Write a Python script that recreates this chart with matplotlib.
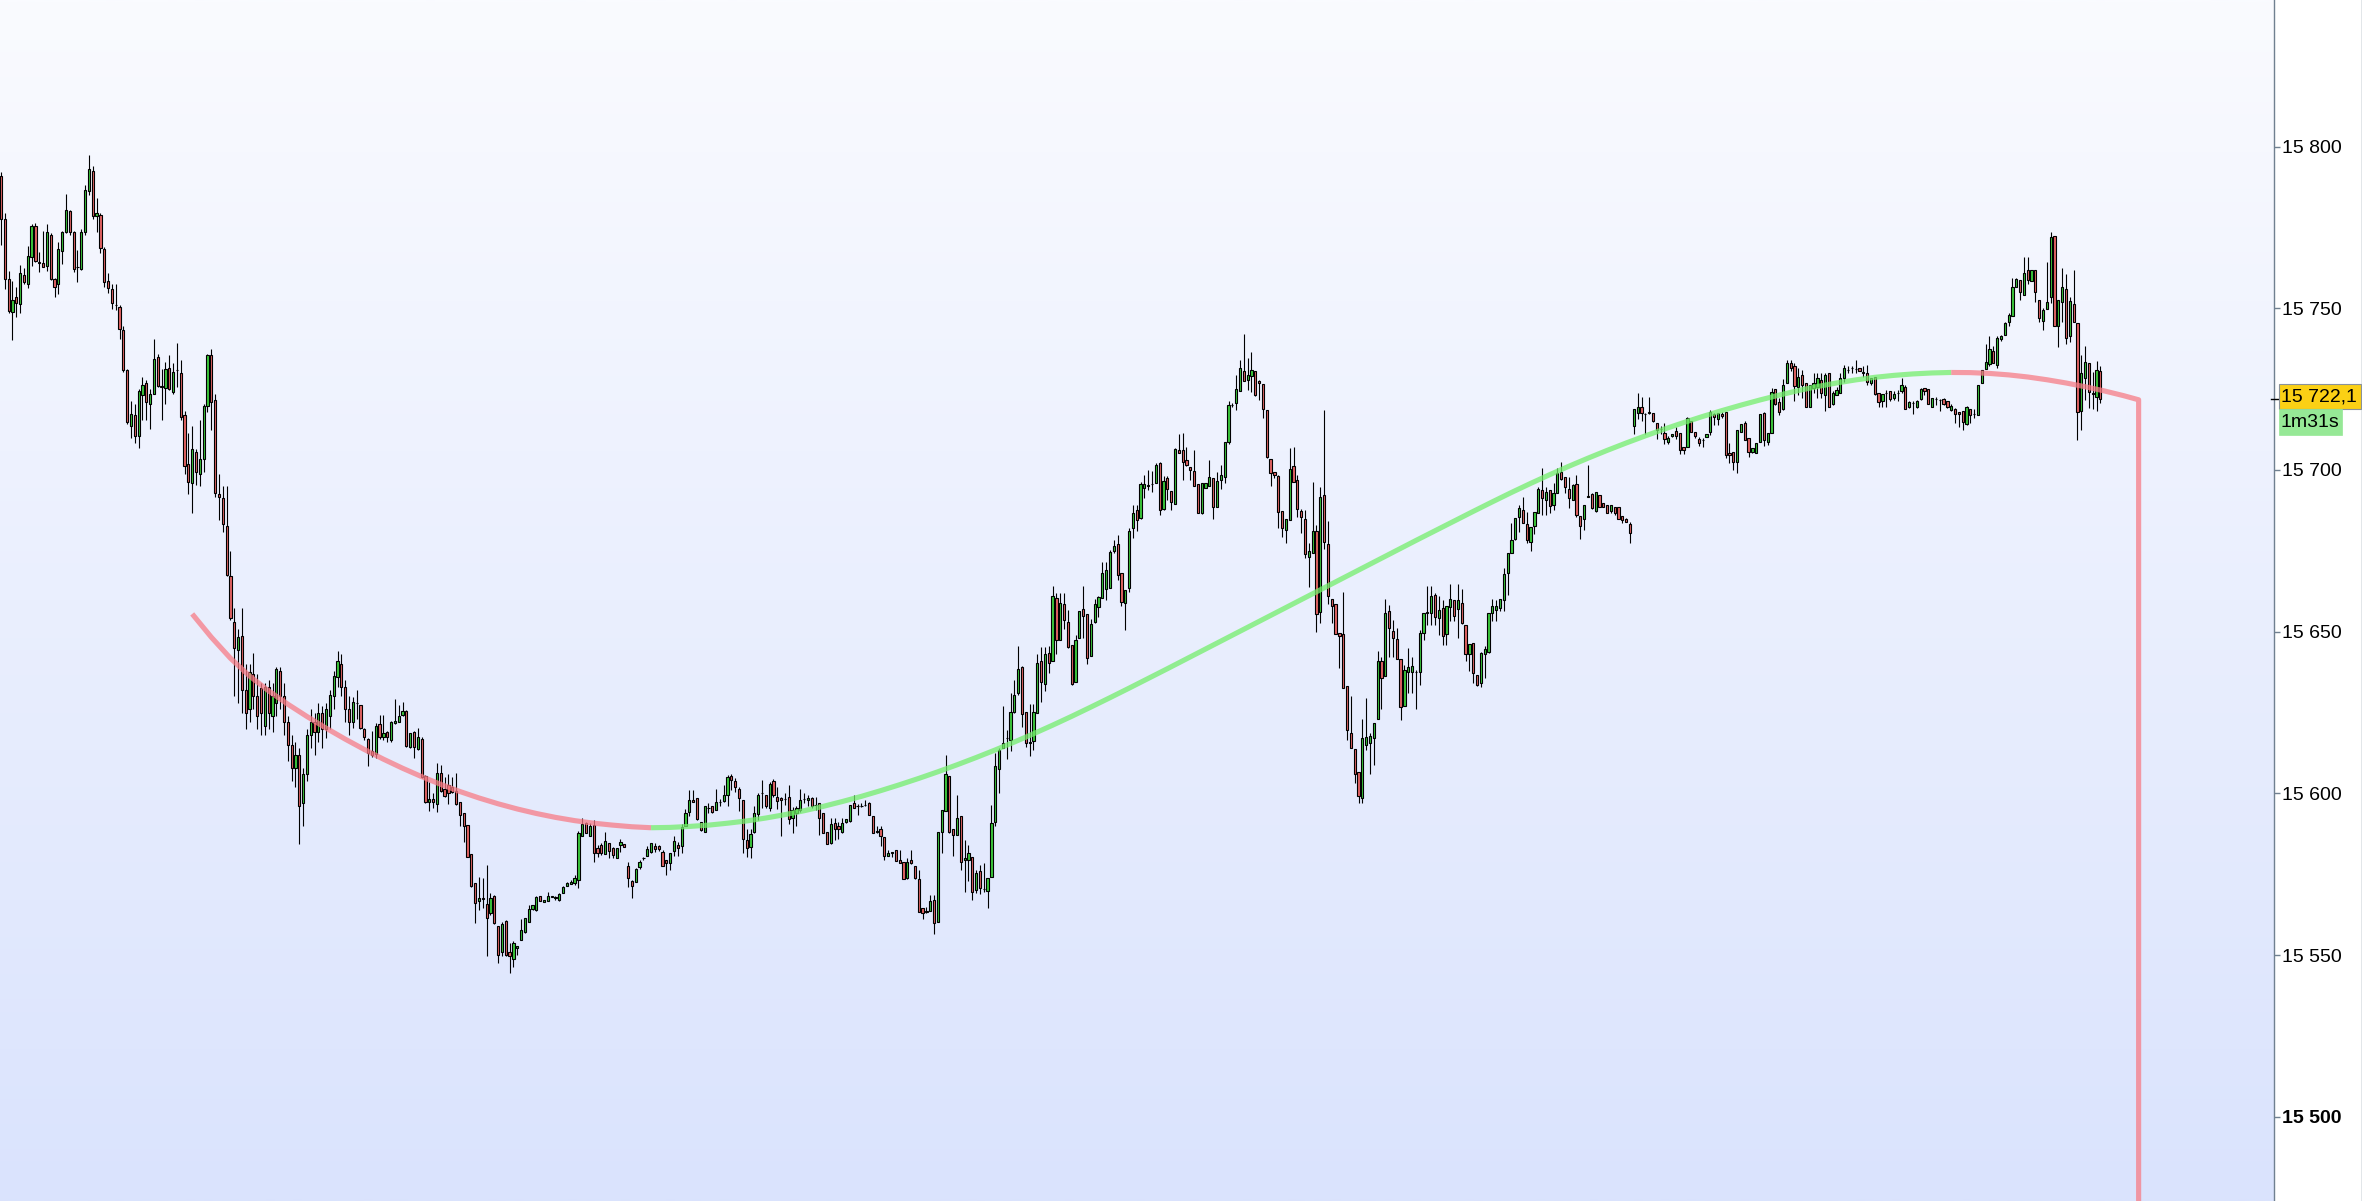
import numpy as np
import matplotlib
matplotlib.use("Agg")
import matplotlib.pyplot as plt
from matplotlib.patches import Rectangle
from matplotlib.lines import Line2D
from matplotlib.transforms import blended_transform_factory

# ---------------- data ----------------
opens = [
15791.0,15777.5,15759.0,15748.7,15753.4,15751.2,15760.3,15757.4,15765.7,15775.4,
15764.2,15763.9,15763.2,15772.8,15758.9,15757.4,15767.8,15773.5,15780.1,15773.5,
15762.9,15762.2,15773.7,15786.3,15792.4,15778.4,15778.7,15768.4,15758.3,15756.0,
15751.1,15750.3,15743.2,15730.8,15713.7,15717.0,15710.6,15723.3,15726.9,15720.3,
15723.4,15734.9,15725.9,15725.3,15731.6,15724.2,15730.9,15730.0,15717.0,15701.8,
15696.0,15705.6,15698.8,15703.5,15719.8,15735.4,15721.7,15692.7,15691.4,15682.8,
15667.3,15653.0,15644.4,15648.8,15632.0,15626.0,15637.0,15630.0,15632.6,15621.0,
15633.0,15624.0,15628.0,15638.0,15630.0,15622.0,15615.0,15608.0,15612.0,15597.0,
15606.0,15618.0,15622.0,15619.0,15625.0,15620.0,15624.0,15630.0,15636.0,15640.0,
15633.0,15626.0,15622.2,15628.0,15627.3,15620.0,15616.9,15613.0,15612.1,15621.4,
15617.6,15619.1,15616.6,15621.7,15622.2,15624.1,15625.6,15614.3,15619.1,15613.7,
15616.8,15605.5,15597.5,15598.2,15596.8,15606.3,15601.3,15602.6,15602.1,15600.8,
15597.3,15593.9,15590.3,15581.2,15572.2,15566.6,15567.6,15565.9,15563.0,15568.4,
15559.1,15550.9,15560.6,15551.1,15548.8,15552.2,15554.7,15557.3,15560.4,15564.2,
15564.0,15568.3,15566.4,15566.6,15567.9,15567.8,15567.1,15569.2,15571.5,15572.1,
15572.2,15573.1,15586.9,15590.8,15586.7,15590.3,15583.1,15584.1,15581.3,15584.6,
15583.1,15580.0,15584.1,15584.3,15577.6,15573.0,15572.6,15577.4,15580.0,15580.8,
15581.8,15583.8,15583.8,15581.8,15579.3,15578.4,15582.3,15584.1,15583.9,15589.8,
15594.4,15598.0,15598.5,15591.3,15588.2,15595.4,15596.0,15594.9,15597.2,15597.8,
15599.6,15605.4,15603.7,15601.3,15598.0,15585.6,15583.4,15588.0,15593.7,15600.1,
15599.6,15595.4,15603.7,15598.8,15598.7,15598.2,15598.8,15592.3,15593.9,15594.9,
15598.2,15598.0,15598.5,15596.5,15597.0,15593.9,15588.2,15584.8,15590.8,15589.8,
15588.2,15591.3,15591.5,15597.0,15596.2,15596.2,15596.5,15597.0,15592.9,15588.2,
15588.9,15586.5,15580.8,15581.7,15582.6,15579.5,15578.9,15573.8,15579.5,15577.6,
15573.5,15564.5,15563.5,15563.8,15567.1,15560.4,15588.2,15594.7,15605.4,15588.9,
15587.2,15593.1,15579.3,15579.3,15580.3,15570.2,15575.9,15570.4,15569.7,15574.3,
15591.3,15607.5,15614.0,15617.1,15616.6,15625.3,15631.0,15639.0,15625.1,15615.7,
15616.3,15624.8,15640.8,15633.9,15643.3,15641.1,15660.4,15647.5,15658.5,15652.9,
15645.9,15634.4,15648.0,15656.9,15655.5,15642.5,15653.1,15657.6,15660.4,15663.1,
15663.5,15674.8,15677.1,15668.1,15658.8,15663.4,15682.0,15687.7,15685.1,15694.4,
15695.2,15695.7,15695.9,15702.3,15687.9,15697.5,15693.5,15689.4,15706.2,15706.2,
15703.1,15700.9,15699.7,15695.6,15686.8,15694.4,15694.9,15697.5,15688.5,15696.9,
15697.8,15708.5,15720.1,15720.8,15724.5,15730.6,15727.9,15729.2,15730.6,15727.5,
15726.6,15718.6,15703.3,15699.5,15698.0,15687.2,15681.5,15684.6,15701.1,15696.9,
15687.4,15684.8,15673.2,15674.3,15681.0,15656.0,15692.3,15677.1,15660.0,15658.5,
15649.7,15649.2,15633.3,15618.8,15613.7,15606.5,15598.5,15615.0,15615.7,15617.1,
15623.0,15641.1,15636.4,15656.5,15650.1,15647.7,15641.5,15627.1,15637.4,15637.4,
15637.4,15637.4,15649.5,15655.9,15655.9,15661.4,15654.1,15657.2,15649.2,15657.5,
15659.8,15656.9,15659.0,15652.1,15643.1,15646.6,15636.6,15634.1,15643.1,15643.8,
15655.7,15656.7,15657.2,15659.8,15668.1,15674.4,15678.6,15685.6,15687.6,15683.2,
15677.8,15682.7,15686.6,15693.8,15690.7,15693.8,15689.2,15693.0,15699.5,15697.7,
15694.0,15690.7,15695.7,15685.8,15684.7,15691.8,15692.6,15687.4,15692.3,15689.7,
15689.2,15687.4,15688.7,15688.7,15685.8,15684.7,15683.3,15713.6,15717.7,15719.6,
15717.3,15717.7,15717.7,15714.4,15712.6,15711.5,15708.8,15710.5,15712.2,15711.3,
15707.0,15707.0,15715.2,15711.8,15709.5,15709.3,15710.1,15711.8,15717.3,15715.7,
15717.3,15718.0,15705.4,15705.7,15702.6,15711.8,15714.6,15709.8,15705.7,15705.1,
15708.8,15717.7,15708.8,15711.5,15724.9,15721.1,15718.7,15726.8,15733.2,15732.0,
15725.8,15729.4,15726.8,15719.4,15725.3,15725.8,15727.9,15723.2,15729.9,15720.4,
15723.2,15723.7,15728.4,15731.0,15731.5,15731.2,15731.5,15730.1,15729.9,15726.8,
15728.7,15723.7,15721.2,15723.7,15724.3,15722.2,15723.7,15724.3,15725.8,15719.4,
15720.6,15719.6,15721.9,15725.3,15725.0,15719.6,15721.9,15721.7,15721.9,15721.2,
15718.6,15718.8,15717.9,15718.1,15714.3,15718.8,15717.4,15717.0,15726.8,15731.2,
15732.7,15736.9,15732.5,15740.4,15741.8,15745.9,15747.6,15756.5,15758.6,15754.1,
15761.7,15758.3,15761.7,15752.6,15746.2,15749.8,15753.4,15772.2,15744.5,15751.8,
15755.9,15741.3,15751.4,15745.4,15718.1,15728.4,15733.0,15723.7,15722.7,15730.6,
]

closes = [
15777.5,15759.0,15749.2,15752.7,15751.7,15760.8,15758.2,15766.3,15775.4,15764.7,
15764.1,15762.8,15773.5,15759.1,15756.7,15768.2,15773.6,15780.3,15773.5,15762.2,
15762.8,15773.5,15786.7,15792.9,15778.5,15779.3,15768.7,15758.2,15756.4,15751.7,
15751.0,15743.7,15730.8,15714.8,15717.2,15710.4,15724.4,15726.2,15720.9,15723.4,
15734.2,15726.0,15725.8,15731.3,15725.0,15730.2,15730.8,15716.4,15701.3,15696.2,
15706.5,15699.3,15703.4,15719.8,15735.4,15721.1,15693.0,15691.8,15683.3,15667.5,
15654.1,15645.0,15648.3,15632.0,15625.0,15637.6,15630.0,15624.0,15625.0,15633.0,
15625.0,15630.0,15638.5,15630.0,15622.0,15615.0,15608.0,15612.0,15596.0,15606.0,
15618.0,15622.0,15619.0,15625.0,15620.0,15626.0,15630.4,15636.3,15641.0,15633.0,
15626.0,15622.0,15628.2,15627.9,15620.1,15617.3,15612.6,15611.9,15620.9,15617.4,
15618.6,15617.4,15622.2,15622.5,15623.8,15625.5,15614.8,15618.6,15614.3,15617.4,
15605.2,15597.2,15598.2,15597.2,15606.3,15600.8,15599.2,15600.1,15600.3,15596.7,
15593.2,15589.8,15580.5,15571.5,15566.1,15567.6,15567.5,15561.6,15567.6,15559.9,
15550.1,15559.7,15550.1,15549.8,15553.7,15552.7,15557.8,15561.4,15564.2,15565.5,
15568.1,15566.9,15567.1,15568.4,15568.4,15567.8,15569.0,15571.2,15572.2,15572.6,
15574.0,15587.7,15590.6,15587.7,15589.8,15581.5,15581.7,15581.5,15585.4,15582.3,
15581.0,15583.1,15585.1,15583.4,15573.8,15571.5,15576.6,15578.9,15580.0,15582.9,
15584.6,15582.8,15582.8,15577.6,15578.4,15581.5,15585.3,15583.1,15589.6,15593.9,
15598.0,15597.2,15592.0,15588.7,15596.0,15595.4,15594.4,15597.2,15597.2,15599.6,
15605.0,15604.2,15601.9,15598.5,15585.9,15583.1,15587.5,15593.9,15599.6,15600.1,
15596.0,15603.0,15599.6,15597.8,15598.0,15598.2,15592.0,15594.9,15595.4,15598.0,
15598.2,15598.5,15596.0,15596.5,15592.3,15587.9,15584.4,15590.5,15589.0,15589.0,
15590.8,15592.0,15596.5,15595.4,15596.2,15596.2,15596.5,15593.4,15587.9,15588.2,
15586.7,15580.8,15581.5,15581.7,15579.0,15578.4,15573.5,15578.9,15578.4,15573.8,
15563.3,15563.0,15563.5,15566.6,15559.9,15588.0,15594.9,15606.0,15588.2,15587.2,
15592.3,15578.9,15580.0,15581.5,15569.4,15575.3,15570.7,15570.4,15573.8,15590.8,
15608.5,15613.5,15615.7,15617.1,15625.3,15630.5,15638.4,15624.6,15615.7,15615.7,
15625.3,15640.3,15634.4,15643.1,15640.3,15660.9,15647.3,15659.0,15653.7,15645.2,
15633.9,15647.5,15656.4,15654.9,15641.8,15652.4,15658.6,15660.7,15668.1,15669.1,
15674.6,15676.5,15667.6,15659.3,15662.9,15681.2,15686.8,15684.6,15695.7,15695.7,
15695.2,15695.7,15701.6,15687.5,15696.6,15694.1,15690.0,15706.4,15705.4,15702.6,
15701.4,15700.0,15694.9,15686.8,15695.9,15695.9,15697.8,15688.5,15696.6,15698.5,
15708.8,15720.1,15720.1,15725.0,15731.5,15727.5,15729.4,15731.0,15723.2,15726.8,
15718.8,15703.9,15699.0,15698.3,15687.0,15682.0,15684.8,15700.2,15696.4,15687.9,
15685.4,15674.0,15675.1,15681.0,15655.5,15691.5,15677.7,15661.1,15658.0,15649.2,
15648.7,15632.5,15619.5,15614.0,15606.1,15599.1,15617.1,15617.6,15617.8,15621.9,
15641.1,15635.6,15655.9,15651.1,15648.0,15641.5,15626.7,15638.2,15639.0,15639.5,
15637.4,15649.5,15655.9,15655.9,15660.9,15654.7,15656.7,15648.7,15658.1,15660.0,
15654.9,15659.8,15652.6,15643.1,15646.1,15637.1,15633.5,15643.5,15644.6,15655.7,
15658.1,15657.8,15660.0,15667.7,15674.2,15678.2,15685.1,15688.1,15683.5,15678.2,
15682.3,15687.1,15694.0,15691.2,15693.1,15688.9,15692.8,15699.2,15697.1,15694.6,
15691.2,15695.4,15686.1,15682.7,15689.2,15691.8,15688.1,15693.3,15688.7,15688.7,
15686.8,15689.2,15686.6,15684.7,15684.5,15684.0,15680.4,15718.7,15719.4,15717.7,
15717.3,15718.0,15715.2,15712.4,15712.6,15709.5,15709.8,15711.1,15710.5,15706.2,
15706.2,15716.0,15711.8,15710.5,15708.4,15709.3,15711.1,15718.0,15716.5,15717.5,
15716.7,15704.6,15704.6,15702.6,15712.4,15714.2,15709.3,15705.7,15706.7,15708.2,
15717.3,15709.3,15711.3,15724.2,15720.4,15718.0,15726.3,15733.2,15731.4,15726.0,
15728.9,15726.3,15719.6,15726.3,15727.0,15728.4,15723.7,15729.4,15719.6,15723.7,
15724.6,15728.4,15731.5,15731.0,15731.5,15731.2,15730.7,15730.1,15727.3,15728.4,
15723.4,15721.0,15723.4,15723.7,15721.9,15723.4,15723.7,15726.3,15718.8,15721.0,
15720.6,15721.2,15725.0,15724.3,15720.4,15722.2,15721.9,15721.7,15720.4,15719.4,
15719.8,15717.2,15717.3,15714.7,15719.4,15717.0,15717.4,15726.3,15731.0,15733.3,
15737.3,15733.2,15740.7,15741.5,15745.4,15748.0,15756.5,15759.0,15754.9,15760.8,
15758.8,15761.7,15754.9,15746.9,15749.5,15751.8,15772.0,15744.5,15752.6,15756.5,
15740.7,15752.1,15745.9,15717.8,15729.9,15733.3,15724.0,15723.4,15731.0,15722.1,
]

highs = [
15792.0,15779.5,15761.5,15758.4,15756.7,15763.3,15762.4,15769.4,15776.0,15776.3,
15767.4,15774.0,15776.0,15773.3,15759.2,15770.4,15774.0,15785.3,15780.4,15773.9,
15768.0,15774.4,15788.1,15797.4,15794.0,15784.0,15779.5,15769.0,15760.8,15757.5,
15757.5,15751.0,15744.6,15731.3,15721.4,15720.3,15725.0,15728.8,15727.8,15724.9,
15740.5,15735.8,15731.3,15733.3,15735.5,15733.0,15739.3,15733.9,15718.1,15711.5,
15713.7,15706.5,15715.3,15720.3,15735.8,15737.4,15723.6,15698.8,15694.9,15694.9,
15675.0,15657.4,15650.7,15657.4,15640.0,15640.0,15643.4,15637.0,15634.0,15634.0,
15635.0,15634.0,15639.0,15639.0,15634.0,15624.0,15618.0,15616.0,15614.0,15608.0,
15620.0,15626.0,15625.0,15628.0,15627.0,15628.0,15632.0,15638.0,15644.0,15643.0,
15635.0,15630.0,15629.9,15632.0,15627.4,15620.2,15617.0,15619.3,15621.7,15624.3,
15624.3,15619.2,15622.4,15629.1,15627.4,15628.2,15625.7,15618.7,15619.2,15620.2,
15617.6,15605.6,15603.4,15600.1,15609.3,15608.8,15605.0,15605.9,15605.2,15606.3,
15597.3,15593.9,15590.3,15581.2,15572.2,15574.1,15573.8,15577.9,15569.2,15568.6,
15559.1,15560.4,15560.9,15553.7,15554.4,15552.7,15561.1,15561.4,15565.5,15565.5,
15568.3,15568.3,15567.1,15569.4,15568.4,15568.4,15569.2,15571.4,15572.7,15573.1,
15574.8,15588.5,15592.3,15591.3,15590.8,15591.8,15584.1,15584.8,15588.0,15584.6,
15583.4,15583.1,15585.8,15584.3,15578.9,15573.3,15576.9,15579.5,15580.2,15583.9,
15584.6,15584.8,15584.1,15582.5,15579.3,15581.5,15586.9,15585.1,15590.6,15595.1,
15601.1,15601.1,15598.5,15591.3,15596.0,15597.0,15596.0,15601.3,15598.2,15602.6,
15605.7,15606.0,15604.7,15601.9,15598.0,15588.9,15588.9,15596.0,15600.1,15604.2,
15599.6,15603.4,15604.4,15601.9,15599.0,15600.1,15602.6,15595.9,15596.1,15601.3,
15600.1,15599.6,15598.8,15598.8,15597.0,15593.9,15588.2,15592.3,15592.3,15591.3,
15592.3,15592.0,15596.5,15599.6,15596.8,15597.0,15598.0,15597.2,15592.9,15589.8,
15589.8,15586.5,15582.5,15581.7,15582.6,15582.6,15578.9,15580.0,15582.6,15577.6,
15576.4,15564.5,15565.0,15568.6,15568.6,15588.0,15594.9,15611.9,15605.4,15588.9,
15599.6,15593.1,15585.6,15584.1,15580.3,15576.4,15577.9,15578.4,15573.8,15596.5,
15612.4,15614.0,15627.1,15619.6,15631.0,15635.1,15645.6,15639.4,15625.1,15627.7,
15627.7,15643.1,15645.2,15645.2,15645.6,15664.0,15661.9,15661.9,15662.0,15656.7,
15645.9,15649.1,15656.4,15664.2,15655.5,15653.9,15660.0,15661.1,15671.7,15671.7,
15675.3,15678.2,15679.9,15668.1,15662.9,15682.0,15689.2,15689.2,15696.4,15698.5,
15700.0,15699.8,15702.1,15702.6,15698.0,15698.0,15693.5,15706.7,15711.1,15711.4,
15707.0,15700.9,15706.2,15695.6,15695.9,15695.9,15703.1,15697.5,15699.5,15701.6,
15708.8,15721.2,15720.6,15729.4,15734.0,15742.1,15734.5,15736.4,15730.6,15727.8,
15726.6,15718.6,15703.3,15699.5,15698.5,15687.2,15684.8,15706.7,15707.2,15698.5,
15687.9,15687.7,15677.4,15696.4,15683.0,15694.6,15718.4,15684.3,15660.0,15658.5,
15649.7,15662.4,15633.3,15630.2,15613.7,15606.5,15623.0,15629.5,15618.6,15621.9,
15643.9,15642.3,15660.0,15658.3,15653.7,15651.1,15641.5,15639.8,15644.9,15642.1,
15638.2,15650.6,15655.9,15664.2,15664.2,15662.1,15661.0,15659.8,15658.1,15664.8,
15659.8,15664.8,15663.1,15652.1,15646.1,15646.6,15636.6,15643.8,15645.6,15655.7,
15660.0,15659.8,15660.0,15669.6,15674.4,15683.5,15685.1,15689.2,15691.8,15687.1,
15682.3,15687.1,15694.6,15700.5,15694.6,15693.8,15695.9,15700.5,15702.6,15697.9,
15697.9,15695.7,15698.5,15685.8,15689.2,15701.5,15692.8,15693.3,15692.3,15689.7,
15689.2,15689.2,15688.7,15688.7,15685.8,15685.1,15684.0,15718.7,15723.9,15722.5,
15717.5,15722.5,15717.7,15714.4,15713.6,15714.6,15710.5,15711.1,15713.4,15711.3,
15707.0,15716.5,15715.2,15711.8,15710.3,15709.8,15711.1,15718.5,15717.5,15717.5,
15718.0,15718.0,15708.2,15705.7,15712.4,15714.2,15715.2,15709.8,15706.7,15708.2,
15717.3,15718.0,15711.5,15725.2,15724.9,15722.2,15728.0,15734.0,15734.0,15733.0,
15731.5,15731.0,15726.8,15726.3,15730.1,15729.9,15729.9,15729.9,15729.9,15724.3,
15725.8,15729.9,15732.5,15732.0,15732.0,15734.0,15731.5,15732.0,15732.5,15728.4,
15728.7,15723.7,15723.4,15724.8,15724.3,15724.3,15724.6,15728.4,15726.3,15721.2,
15721.2,15721.7,15725.3,15725.3,15725.0,15722.2,15722.5,15721.9,15722.2,15721.2,
15720.4,15719.1,15717.9,15718.1,15719.8,15718.8,15718.8,15726.3,15731.0,15738.9,
15741.5,15738.2,15741.3,15741.8,15745.9,15748.5,15759.3,15759.3,15758.6,15766.0,
15766.0,15761.7,15761.7,15752.6,15750.0,15764.4,15773.7,15772.2,15752.6,15762.4,
15760.6,15753.6,15761.9,15745.4,15735.6,15738.2,15733.0,15730.4,15733.6,15732.3,
]

lows = [
15769.5,15756.0,15748.4,15740.2,15747.2,15748.6,15757.5,15756.4,15763.2,15764.2,
15761.3,15762.8,15761.6,15758.7,15753.6,15754.3,15763.7,15773.4,15772.6,15761.3,
15758.2,15761.7,15772.6,15785.0,15777.6,15773.7,15767.2,15756.7,15754.8,15749.7,
15749.5,15740.4,15730.2,15714.2,15709.8,15708.2,15706.8,15715.6,15715.6,15712.8,
15723.4,15725.8,15715.3,15720.3,15724.7,15723.6,15725.8,15715.3,15698.8,15692.7,
15686.6,15695.5,15695.1,15699.3,15717.9,15712.4,15691.8,15684.4,15680.9,15667.3,
15653.5,15630.0,15628.0,15625.0,15620.0,15622.0,15626.0,15620.0,15618.0,15618.0,
15620.0,15619.0,15624.0,15626.0,15618.0,15610.0,15604.0,15602.0,15584.5,15590.0,
15604.0,15614.0,15612.0,15616.0,15614.0,15617.0,15620.0,15626.0,15633.0,15630.0,
15622.0,15618.0,15620.2,15622.9,15620.0,15616.6,15608.6,15611.4,15611.1,15616.9,
15616.6,15616.0,15616.0,15621.6,15622.0,15624.0,15614.3,15614.2,15611.1,15613.5,
15604.7,15597.0,15594.7,15595.4,15594.2,15600.3,15598.8,15596.8,15600.1,15596.5,
15589.8,15585.1,15580.2,15571.2,15560.1,15564.0,15564.5,15549.6,15562.5,15559.6,
15547.7,15549.8,15549.6,15544.6,15546.3,15550.1,15554.7,15557.0,15560.4,15564.0,
15563.8,15566.6,15566.3,15566.6,15567.9,15567.1,15566.6,15569.2,15571.4,15572.0,
15571.7,15570.7,15586.7,15587.7,15586.7,15578.7,15580.5,15581.0,15581.3,15580.0,
15580.0,15580.0,15582.0,15583.4,15571.2,15567.8,15572.6,15576.6,15579.5,15580.8,
15581.5,15581.8,15582.3,15577.6,15574.8,15576.4,15580.7,15580.7,15581.5,15589.8,
15592.9,15597.2,15591.8,15588.5,15588.2,15593.9,15593.9,15594.9,15596.2,15597.2,
15596.0,15601.1,15600.3,15594.7,15581.7,15580.5,15580.0,15587.7,15591.8,15595.4,
15595.4,15594.7,15598.8,15595.1,15586.7,15596.5,15590.6,15587.9,15589.8,15594.4,
15597.0,15596.0,15595.4,15594.9,15587.2,15587.9,15584.4,15584.4,15585.6,15585.9,
15587.7,15590.8,15591.3,15595.4,15593.4,15595.7,15596.0,15593.4,15587.9,15587.9,
15583.8,15579.5,15580.8,15580.5,15579.0,15578.4,15573.5,15573.5,15578.2,15573.5,
15563.3,15561.1,15563.0,15563.8,15556.6,15560.4,15581.7,15594.7,15587.7,15580.7,
15587.2,15576.2,15569.4,15572.8,15567.1,15569.2,15569.0,15569.4,15564.5,15574.3,
15589.8,15600.1,15614.0,15610.6,15613.0,15624.8,15630.5,15620.5,15614.3,15611.6,
15613.5,15624.8,15628.4,15631.8,15637.2,15640.8,15643.1,15647.5,15650.8,15645.0,
15633.6,15634.4,15648.0,15648.0,15640.1,15642.5,15652.6,15654.7,15660.4,15659.8,
15663.5,15674.3,15666.0,15657.8,15650.6,15662.4,15678.9,15681.0,15684.9,15691.3,
15693.9,15693.3,15695.9,15686.1,15687.7,15690.8,15687.7,15689.4,15705.2,15696.9,
15701.1,15696.9,15694.9,15686.8,15686.4,15694.4,15694.9,15684.8,15688.5,15694.1,
15695.9,15708.1,15719.4,15718.4,15724.5,15727.5,15724.6,15724.2,15722.9,15721.7,
15716.0,15703.6,15695.2,15697.5,15682.2,15679.2,15677.4,15684.6,15696.4,15685.6,
15680.5,15672.9,15663.7,15674.3,15649.9,15652.6,15675.5,15658.5,15652.8,15649.2,
15638.7,15632.5,15616.4,15614.0,15603.2,15597.0,15597.0,15613.5,15606.0,15608.8,
15623.0,15626.0,15636.4,15642.1,15642.1,15641.5,15622.8,15627.1,15631.2,15631.0,
15626.0,15633.6,15647.3,15652.1,15652.1,15652.1,15649.1,15645.9,15645.9,15653.4,
15653.4,15648.0,15652.4,15641.1,15638.0,15634.1,15633.2,15633.0,15635.6,15643.5,
15653.4,15653.4,15656.5,15656.5,15661.4,15674.4,15678.4,15680.9,15683.5,15677.5,
15675.1,15680.2,15686.6,15686.1,15686.1,15686.6,15687.6,15693.0,15696.9,15693.0,
15688.1,15690.7,15685.6,15678.6,15681.4,15691.8,15687.8,15687.1,15688.7,15688.7,
15686.6,15686.8,15686.1,15684.7,15683.5,15684.0,15677.5,15711.1,15715.7,15715.2,
15711.1,15717.3,15714.9,15709.5,15711.1,15708.0,15708.0,15710.1,15709.5,15704.9,
15704.9,15707.0,15711.8,15709.8,15707.4,15707.2,15710.1,15710.8,15713.9,15713.9,
15716.0,15703.6,15702.1,15700.0,15699.2,15711.8,15709.3,15704.1,15705.1,15705.1,
15708.8,15707.4,15707.7,15711.5,15720.1,15717.0,15718.5,15726.8,15730.5,15721.2,
15723.2,15722.2,15719.6,15719.4,15723.7,15722.2,15722.2,15718.1,15719.6,15720.1,
15723.2,15723.7,15727.3,15729.9,15729.9,15729.9,15730.7,15728.9,15726.3,15726.3,
15723.2,15719.6,15719.6,15719.4,15721.2,15721.7,15721.2,15723.9,15718.8,15719.1,
15717.3,15719.1,15721.7,15723.2,15720.4,15719.6,15720.1,15718.1,15720.1,15719.1,
15718.1,15714.5,15713.4,15712.4,15713.9,15714.5,15716.0,15717.0,15726.8,15731.2,
15732.0,15733.0,15731.5,15740.0,15741.8,15744.5,15747.6,15756.5,15752.6,15754.1,
15757.5,15758.3,15751.8,15745.9,15743.3,15749.8,15751.6,15744.5,15738.0,15745.6,
15739.0,15739.7,15745.9,15709.3,15712.4,15721.7,15719.1,15718.8,15718.1,15720.8,
]

# smoothed average line, one value every 5 bars from bar 50, then its last point (bar 559)
ma_values = [
15655.5,15648.3,15641.8,15636.3,15631.7,15627.6,15623.8,15620.2,15616.8,15613.6,
15610.6,15607.8,15605.2,15602.8,15600.6,15598.6,15596.8,15595.2,15593.8,15592.6,
15591.6,15590.8,15590.2,15589.7,15589.4,15589.5,15589.8,15590.2,15590.8,15591.5,
15592.4,15593.45,15594.65,15596.0,15597.5,15599.1,15600.85,15602.7,15604.65,15606.7,
15608.85,15611.1,15613.45,15615.9,15618.45,15621.1,15623.85,15626.7,15629.6,15632.55,
15635.55,15638.55,15641.6,15644.65,15647.7,15650.75,15653.8,15656.85,15659.9,15662.95,
15666.0,15669.05,15672.1,15675.15,15678.2,15681.2,15684.2,15687.2,15690.15,15693.05,
15695.85,15698.55,15701.15,15703.65,15706.05,15708.35,15710.55,15712.65,15714.65,15716.55,
15718.35,15720.05,15721.65,15723.15,15724.55,15725.8,15726.9,15727.85,15728.65,15729.25,
15729.7,15730.0,15730.15,15730.1,15729.85,15729.4,15728.75,15727.9,15726.9,15725.75,
15724.45,15723.0,15721.7,
]
ma_drop_value = 15300.0

ytick_values = [15500, 15550, 15600, 15650, 15700, 15750, 15800]
ytick_labels = ["15 500", "15 550", "15 600", "15 650", "15 700", "15 750", "15 800"]
last_price_label = "15 722,1"
timer_label = "1m31s"

n = len(closes)
assert len(opens) == n and len(highs) == n and len(lows) == n, (len(opens), len(highs), len(lows), n)

# ---------------- figure ----------------
plt.rcParams["font.family"] = ["Liberation Sans", "DejaVu Sans"]
W, H = 2362, 1201
fig = plt.figure(figsize=(W / 100, H / 100), dpi=100)
fig.patch.set_facecolor("white")

axis_px = 2274
ax = fig.add_axes([0, 0, axis_px / W, 1])

# vertical gradient background
top = np.array([250, 251, 255]) / 255.0
bot = np.array([218, 227, 253]) / 255.0
t = np.linspace(0, 1, 256)[:, None]
grad = top * (1 - t) + bot * t
ax.imshow(grad[:, None, :], extent=[0, 1, 0, 1], transform=ax.transAxes,
          aspect="auto", zorder=0, interpolation="bilinear")

o = np.array(opens)
c = np.array(closes)
h = np.maximum(np.array(highs), np.maximum(o, c))
l = np.minimum(np.array(lows), np.minimum(o, c))
x = np.arange(n)
up = c >= o
body_bot = np.minimum(o, c)
body_h = np.maximum(np.abs(c - o), 0.05)

GREEN = "#3cc83c"
RED = "#e46464"
ax.vlines(x, l, h, color="black", linewidth=0.8, zorder=2)
ax.bar(x[up], body_h[up], bottom=body_bot[up], width=0.58, color=GREEN,
       edgecolor="black", linewidth=0.8, zorder=3)
ax.bar(x[~up], body_h[~up], bottom=body_bot[~up], width=0.58, color=RED,
       edgecolor="black", linewidth=0.8, zorder=3)

# smoothed line coloured by slope
ma_x = list(range(50, 556, 5)) + [559, 559]
ma_y = ma_values + [ma_drop_value]
MA_GREEN = "#74ee6c"
MA_RED = "#f77c86"
seg_cols = [MA_GREEN if ma_y[k + 1] > ma_y[k] else MA_RED for k in range(len(ma_y) - 1)]
start = 0
for k in range(1, len(seg_cols) + 1):
    if k == len(seg_cols) or seg_cols[k] != seg_cols[start]:
        ax.plot(ma_x[start:k + 1], ma_y[start:k + 1], color=seg_cols[start],
                linewidth=3.7, alpha=0.75, solid_capstyle="butt",
                solid_joinstyle="round", zorder=4)
        start = k

ax.set_xlim(-0.26, 594.4)
ax.set_ylim(15474.0, 15845.3)

ax.set_xticks([])
ax.yaxis.tick_right()
ax.set_yticks(ytick_values)
ax.set_yticklabels(ytick_labels, fontsize=14)
ax.tick_params(axis="y", direction="out", length=4, width=1, color="#708090",
               pad=2, labelcolor="black")
for lab in ax.get_yticklabels():
    if lab.get_text() == "15 500":
        lab.set_fontweight("bold")
for sp in ["left", "top", "bottom"]:
    ax.spines[sp].set_visible(False)
ax.spines["right"].set_color("#708090")
ax.spines["right"].set_linewidth(1.0)

# right border of the price panel
fig.add_artist(Line2D([2361.5 / W, 2361.5 / W], [0, 1], transform=fig.transFigure,
                      color="#708090", linewidth=1.0))

# last price tag and timer
last = closes[-1]
tr = blended_transform_factory(fig.transFigure, ax.transData)
box_h = 25 / 3.235
yb = last + 0.5 - box_h / 2
fig.add_artist(Rectangle((2279 / W, yb), (2361 - 2279) / W, box_h, transform=tr,
                         facecolor="#fbd015", edgecolor="#8a929a", linewidth=0.8, zorder=5))
fig.text(2281 / W, yb + box_h / 2, last_price_label, transform=tr, fontsize=14,
         va="center", ha="left", color="black", zorder=6)
gh = 26 / 3.235
fig.add_artist(Rectangle((2279 / W, yb - gh), (2342 - 2279) / W, gh, transform=tr,
                         facecolor="#96e896", edgecolor="#96e896", linewidth=0.5, zorder=5))
fig.text(2281 / W, yb - gh / 2, timer_label, transform=tr, fontsize=14,
         va="center", ha="left", color="black", zorder=6)
fig.add_artist(Line2D([2271 / W, 2279 / W], [last, last], transform=tr,
                      color="black", linewidth=1.0))

fig.savefig("out.png", dpi=100, facecolor="white")
